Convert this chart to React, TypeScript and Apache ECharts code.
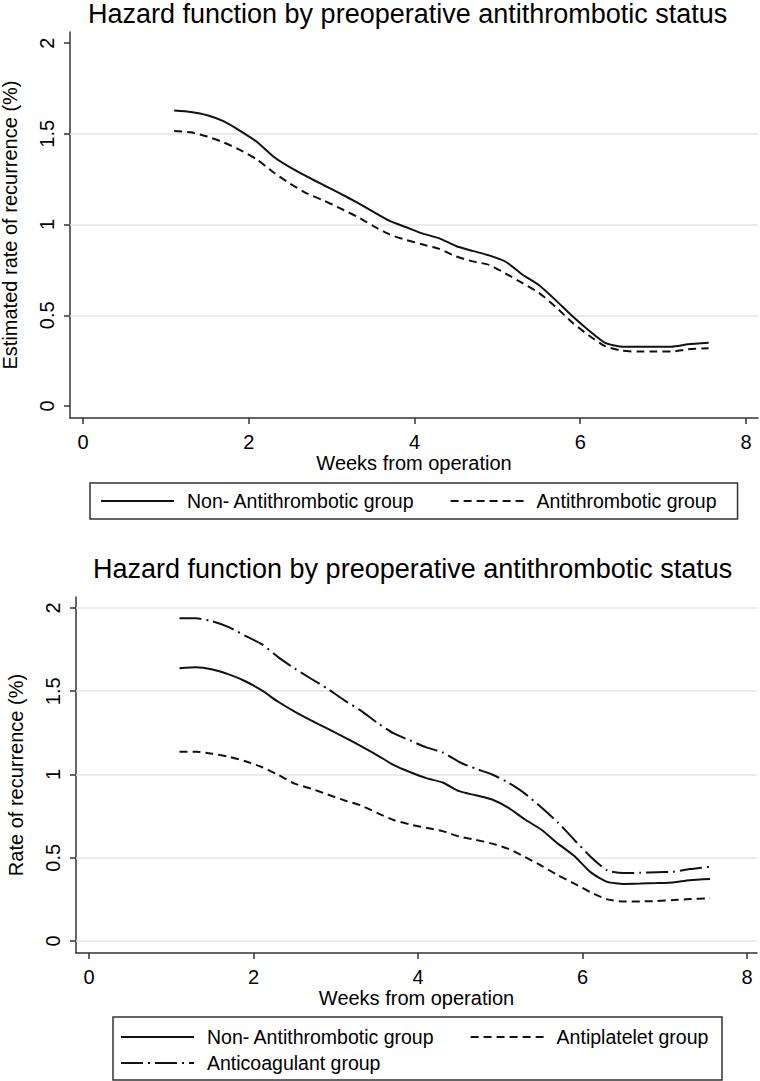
import React, { useEffect, useRef } from "react";
import * as echarts from "echarts";

const FONT = "'Liberation Sans', Arial, Helvetica, sans-serif";

const TITLE = "Hazard function by preoperative antithrombotic status";
const X_NAME = "Weeks from operation";
const Y_NAME_1 = "Estimated rate of recurrence (%)";
const Y_NAME_2 = "Rate of recurrence (%)";

const weeks = [1.1, 1.3, 1.5, 1.7, 1.9, 2.1, 2.3, 2.5, 2.7, 2.9, 3.1, 3.3, 3.5, 3.7, 3.9, 4.1, 4.3, 4.5, 4.7, 4.9, 5.1, 5.3, 5.5, 5.7, 5.9, 6.1, 6.3, 6.5, 6.7, 6.9, 7.1, 7.3, 7.55];

// Chart 1
const c1NonAnti = [1.628, 1.62, 1.602, 1.568, 1.515, 1.455, 1.374, 1.315, 1.265, 1.218, 1.172, 1.123, 1.071, 1.02, 0.985, 0.95, 0.924, 0.882, 0.855, 0.83, 0.795, 0.725, 0.667, 0.585, 0.497, 0.418, 0.348, 0.327, 0.327, 0.327, 0.327, 0.34, 0.349];
const c1Anti = [1.516, 1.508, 1.485, 1.452, 1.41, 1.358, 1.287, 1.225, 1.172, 1.133, 1.09, 1.045, 0.993, 0.945, 0.915, 0.89, 0.866, 0.825, 0.797, 0.778, 0.73, 0.678, 0.624, 0.548, 0.462, 0.39, 0.33, 0.305, 0.3, 0.3, 0.3, 0.313, 0.318];

// Chart 2
const c2NonAnti = [1.638, 1.644, 1.63, 1.601, 1.56, 1.505, 1.437, 1.378, 1.325, 1.275, 1.225, 1.172, 1.117, 1.058, 1.015, 0.978, 0.952, 0.9, 0.875, 0.85, 0.8, 0.73, 0.668, 0.585, 0.51, 0.412, 0.355, 0.343, 0.345, 0.348, 0.352, 0.365, 0.372];
const c2Antiplatelet = [1.137, 1.137, 1.125, 1.107, 1.08, 1.045, 0.998, 0.945, 0.915, 0.88, 0.845, 0.815, 0.77, 0.727, 0.7, 0.68, 0.66, 0.628, 0.608, 0.585, 0.553, 0.505, 0.452, 0.395, 0.345, 0.292, 0.25, 0.237, 0.238, 0.24, 0.246, 0.252, 0.257];
const c2Anticoag = [1.938, 1.938, 1.92, 1.885, 1.833, 1.783, 1.705, 1.636, 1.575, 1.515, 1.447, 1.385, 1.312, 1.248, 1.205, 1.163, 1.132, 1.075, 1.035, 1.0, 0.95, 0.885, 0.802, 0.712, 0.607, 0.505, 0.424, 0.408, 0.41, 0.413, 0.416, 0.432, 0.446];

const xTicks = [0, 2, 4, 6, 8];
const yTicks = [0, 0.5, 1, 1.5, 2];
const grid1Lines = [0.5, 1, 1.5];
const grid2Lines = [0, 0.5, 1, 1.5, 2];

const NAME_NON = "Non- Antithrombotic group";
const NAME_ANTI = "Antithrombotic group";
const NAME_PLT = "Antiplatelet group";
const NAME_COAG = "Anticoagulant group";

const LINE_COLOR = "#111";
const AXIS_COLOR = "#333";
const GRID_COLOR = "#e4e4e4";

const SOLID = "solid";
const DASHED = [8, 5];
const DASHDOT = [22, 5, 2, 5];

const FS = 20;
const LEGEND_FS = 19.5;

function pairs(ys: number[]) {
  return weeks.map((w, i) => [w, ys[i]]);
}

function xAxisOpt(gridIndex: number, min: number, max: number) {
  return {
    type: "value",
    gridIndex,
    min,
    max,
    name: X_NAME,
    nameLocation: "middle",
    nameGap: 29,
    nameTextStyle: { fontSize: FS, color: "#000", fontFamily: FONT },
    axisLine: { show: true, onZero: false, lineStyle: { color: AXIS_COLOR, width: 1.5 } },
    axisTick: { show: true, length: 6, customValues: xTicks, lineStyle: { color: AXIS_COLOR, width: 1.5 } },
    axisLabel: { customValues: xTicks, fontSize: FS, color: "#000", fontFamily: FONT, margin: 14 },
    splitLine: { show: false },
  };
}

function yAxisOpt(gridIndex: number, min: number, max: number, name: string) {
  return {
    type: "value",
    gridIndex,
    min,
    max,
    name,
    nameLocation: "middle",
    nameGap: 50,
    nameTextStyle: { fontSize: FS, color: "#000", fontFamily: FONT },
    axisLine: { show: true, onZero: false, lineStyle: { color: AXIS_COLOR, width: 1.5 } },
    axisTick: { show: true, length: 6, customValues: yTicks, lineStyle: { color: AXIS_COLOR, width: 1.5 } },
    axisLabel: {
      customValues: yTicks,
      rotate: 90,
      align: "center",
      verticalAlign: "bottom",
      fontSize: FS,
      color: "#000",
      fontFamily: FONT,
      margin: 13,
    },
    splitLine: { show: false },
  };
}

function gridMarkLine(values: number[]) {
  return {
    silent: true,
    z: 1,
    symbol: ["none", "none"],
    label: { show: false },
    emphasis: { disabled: true },
    lineStyle: { color: GRID_COLOR, type: "solid", width: 1.5 },
    data: values.map((v) => ({ yAxis: v })),
  };
}

function lineSeries(name: string, idx: number, ys: number[], type: any, markLine?: any) {
  const s: any = {
    name,
    type: "line",
    xAxisIndex: idx,
    yAxisIndex: idx,
    data: pairs(ys),
    symbol: "none",
    showSymbol: false,
    smooth: 0.2,
    z: 3,
    lineStyle: { color: LINE_COLOR, width: 2, type },
    itemStyle: { color: LINE_COLOR, opacity: 0 },
  };
  if (markLine) s.markLine = markLine;
  return s;
}

const legendText = { fontSize: LEGEND_FS, color: "#000", fontFamily: FONT, padding: [0, 0, 0, 8] };
const legendCommon = {
  orient: "horizontal",
  itemWidth: 73,
  itemHeight: 14,
  itemGap: 35,
  selectedMode: false,
  itemStyle: { opacity: 0 },
  textStyle: legendText,
};

export default function App() {
  const ref = useRef<HTMLDivElement>(null);
  useEffect(() => {
    if (!ref.current) return;
    const chart = echarts.init(ref.current, undefined, { renderer: "svg" });
    chart.setOption({
      animation: false,
      backgroundColor: "#fff",
      textStyle: { fontFamily: FONT },
      title: [
        { text: TITLE, left: 88, top: 0, padding: 0, textStyle: { fontSize: 27, fontWeight: "normal", color: "#000", fontFamily: FONT } },
        { text: TITLE, left: 93, top: 555, padding: 0, textStyle: { fontSize: 27, fontWeight: "normal", color: "#000", fontFamily: FONT } },
      ],
      grid: [
        { left: 70, top: 32, width: 688, height: 386, containLabel: false, outerBoundsMode: "none" },
        { left: 76, top: 597, width: 681, height: 356, containLabel: false, outerBoundsMode: "none" },
      ],
      xAxis: [xAxisOpt(0, -0.157, 8.145), xAxisOpt(1, -0.158, 8.12)],
      yAxis: [yAxisOpt(0, -0.066, 2.061, Y_NAME_1), yAxisOpt(1, -0.072, 2.066, Y_NAME_2)],
      legend: [
        {
          ...legendCommon,
          data: [NAME_NON, NAME_ANTI],
          left: 90,
          top: 483,
          padding: [8, 21, 8, 10],
          borderColor: AXIS_COLOR,
          borderWidth: 1.5,
        },
        {
          ...legendCommon,
          data: [NAME_NON, NAME_PLT],
          left: 120,
          top: 1027,
          padding: 0,
        },
        {
          ...legendCommon,
          data: [NAME_COAG],
          left: 120,
          top: 1053,
          padding: 0,
        },
      ],
      graphic: [
        {
          type: "rect",
          shape: { x: 113, y: 1017, width: 609, height: 63 },
          style: { fill: "none", stroke: AXIS_COLOR, lineWidth: 1.5 },
          silent: true,
        },
      ],
      series: [
        lineSeries(NAME_NON, 0, c1NonAnti, SOLID, gridMarkLine(grid1Lines)),
        lineSeries(NAME_ANTI, 0, c1Anti, DASHED),
        lineSeries(NAME_NON, 1, c2NonAnti, SOLID, gridMarkLine(grid2Lines)),
        lineSeries(NAME_PLT, 1, c2Antiplatelet, DASHED),
        lineSeries(NAME_COAG, 1, c2Anticoag, DASHDOT),
      ],
    });
    return () => chart.dispose();
  }, []);
  return <div ref={ref} style={{ position: "fixed", left: 0, top: 0, width: 760, height: 1081 }} />;
}
